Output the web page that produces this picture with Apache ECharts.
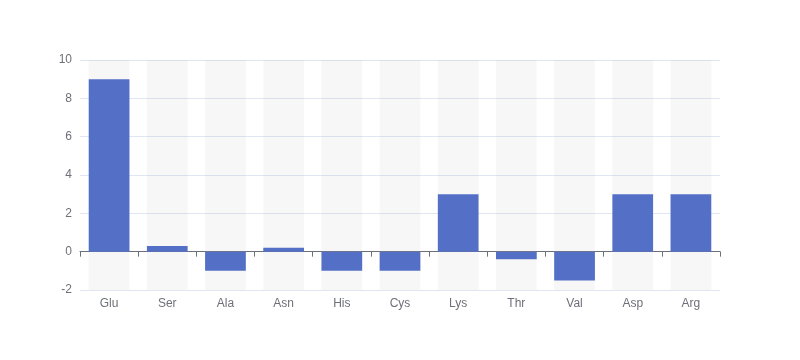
<!DOCTYPE html>
<html>
<head>
<meta charset="utf-8">
<script src="https://cdn.jsdelivr.net/npm/echarts@6/dist/echarts.min.js"></script>
<style>html,body{margin:0;padding:0;background:#fff}#c{width:800px;height:360px}</style>
</head>
<body>
<div id="c"></div>
<script>
var categories = ['Glu','Ser','Ala','Asn','His','Cys','Lys','Thr','Val','Asp','Arg'];
var values = [9, 0.3, -1, 0.2, -1, -1, 3, -0.4, -1.5, 3, 3];
var chart = echarts.init(document.getElementById('c'));
chart.setOption({
  animation: false,
  grid: {left: 80, right: 80, top: 60, bottom: 70},
  xAxis: {
    type: 'category', data: categories,
    axisTick: {show: true, lineStyle: {color: '#6E7079'}},
    axisLine: {lineStyle: {color: '#6E7079'}},
    axisLabel: {color: '#6E7079', fontSize: 12}
  },
  yAxis: {
    type: 'value', min: -2, max: 10, interval: 2,
    axisLabel: {color: '#6E7079', fontSize: 12},
    splitLine: {lineStyle: {color: '#E0E6F1'}}
  },
  series: [{
    type: 'bar',
    data: values,
    barWidth: '70%',
    itemStyle: {color: '#5470c6'},
    showBackground: true,
    backgroundStyle: {color: 'rgba(180,180,180,0.1)'}
  }]
});
</script>
</body>
</html>
